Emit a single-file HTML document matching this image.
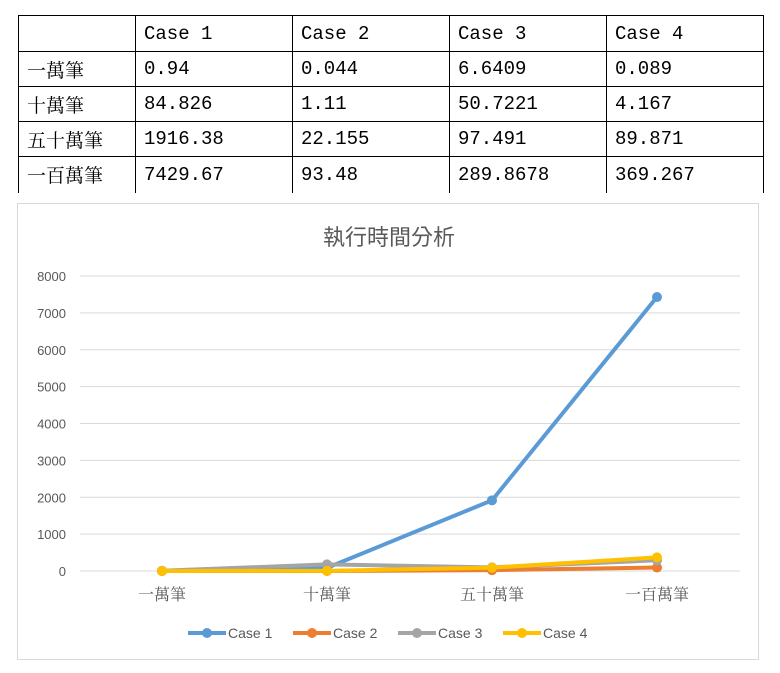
<!DOCTYPE html>
<html><head><meta charset="utf-8"><style>
body{margin:0;width:780px;height:673px;background:#fff;overflow:hidden;font-family:"Liberation Sans","Noto Sans CJK TC",sans-serif}
table{position:absolute;left:18px;top:15px;border-collapse:collapse;font-family:"Liberation Mono","Noto Serif CJK TC",monospace;font-size:19px;color:#000}
td{border:1px solid #000;height:34px;padding:0 0 0 8px;vertical-align:middle;box-sizing:border-box}
tr.last td{border-bottom:none}
#chart{position:absolute;left:17px;top:203px;width:742px;height:457px;border:1px solid #d9d9d9;box-sizing:border-box}
</style></head><body>
<table>
<tr style="height:36px"><td style="width:117px"></td><td style="width:157px">Case 1</td><td style="width:157px">Case 2</td><td style="width:157px">Case 3</td><td style="width:157px">Case 4</td></tr>
<tr style="height:35px"><td>一萬筆</td><td>0.94</td><td>0.044</td><td>6.6409</td><td>0.089</td></tr>
<tr style="height:35px"><td>十萬筆</td><td>84.826</td><td>1.11</td><td>50.7221</td><td>4.167</td></tr>
<tr style="height:35px"><td>五十萬筆</td><td>1916.38</td><td>22.155</td><td>97.491</td><td>89.871</td></tr>
<tr class="last" style="height:36px"><td>一百萬筆</td><td>7429.67</td><td>93.48</td><td>289.8678</td><td>369.267</td></tr>
</table>
<div id="chart"></div>
<svg id="svg" width="780" height="673" style="position:absolute;left:0;top:0"></svg>
<script>
const categories=["一萬筆","十萬筆","五十萬筆","一百萬筆"];
const case1=[0.94,84.826,1916.38,7429.67];
const case2=[0.044,1.11,22.155,93.48];
const case3=[6.6409,180,97.491,289.8678];
const case4=[0.089,4.167,89.871,369.267];
const yTicks=[0,1000,2000,3000,4000,5000,6000,7000,8000];
const seriesNames=["Case 1","Case 2","Case 3","Case 4"];
const colors=["#5b9bd5","#ed7d31","#a5a5a5","#ffc000"];
const svg=document.getElementById('svg');const NS="http://www.w3.org/2000/svg";
function y(v){return 571-v/8000*295}
function x(i){return 162+i*165}
function mk(t,a,p){const e=document.createElementNS(NS,t);for(const k in a)e.setAttribute(k,a[k]);(p||svg).appendChild(e);return e}
const title=mk('text',{x:389,y:245,'text-anchor':'middle','font-size':22,fill:'#595959','font-family':'"Liberation Sans","Noto Sans CJK TC",sans-serif'});title.textContent="執行時間分析";


yTicks.forEach(t=>{
 const l=mk('line',{x1:80,x2:740,y1:y(t),y2:y(t),stroke:'#d9d9d9','stroke-width':1});
 
 
 const tx=mk('text',{x:66,y:y(t)+5,'text-anchor':'end','font-size':13,fill:'#595959'});tx.textContent=t;
 
 
});
categories.forEach((c,i)=>{
 const tx=mk('text',{x:x(i),y:600,'text-anchor':'middle','font-size':16,fill:'#595959','font-family':'"Liberation Serif","Noto Serif CJK TC",serif'});tx.textContent=c;
 
 
});
[case1,case2,case3,case4].forEach((s,k)=>{
 const p=mk('polyline',{points:s.map((v,i)=>x(i)+','+y(v)).join(' '),fill:'none',stroke:colors[k],'stroke-width':4,'stroke-linejoin':'round'});
 
 
 s.forEach((v,i)=>{const c=mk('circle',{cx:x(i),cy:y(v),r:5,fill:colors[k]});
  
  });
});
const lx=[188,293,398,503];
seriesNames.forEach((n,k)=>{
 const g=mk('g',{});
 
 
 mk('line',{x1:lx[k],x2:lx[k]+38,y1:633,y2:633,stroke:colors[k],'stroke-width':4},g);
 mk('circle',{cx:lx[k]+19,cy:633,r:5,fill:colors[k]},g);
 const t=mk('text',{x:lx[k]+40,y:638,'font-size':14,fill:'#595959'},g);t.textContent=n;
});
</script>
</body></html>
